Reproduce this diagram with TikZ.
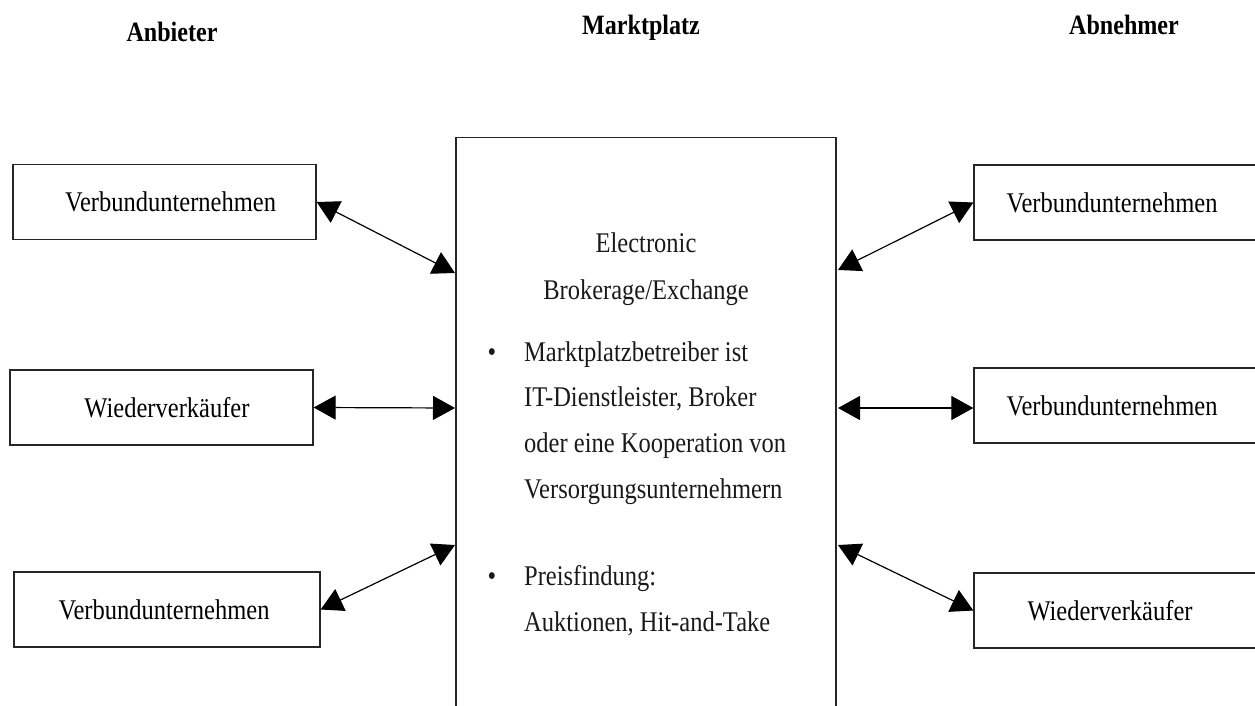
\documentclass[tikz,border=0pt]{standalone}
\usepackage{fontspec}
\setmainfont{Liberation Serif}[FakeStretch=0.86]
\usetikzlibrary{arrows.meta}
\begin{document}
\begin{tikzpicture}[x=1pt,y=-1pt,
  font=\fontsize{28.5}{46}\selectfont,
  sidebox/.style={draw=black!85, line width=1.3pt, minimum height=75pt, inner sep=0pt},
  txt/.style={inner sep=0pt, anchor=base, text=black!90},
  head/.style={inner sep=0pt, anchor=base, font=\fontsize{28}{34}\selectfont\bfseries},
  link/.style={line width=1.2pt, {Triangle[length=22pt,width=24pt]}-{Triangle[length=22pt,width=24pt]}}
]
\useasboundingbox (0,0) rectangle (1255,706);
\clip (0,0) rectangle (1255,706);

% headers
\node[head] (hA) at (172,42) {Anbieter};
\node[head] (hM) at (641,35) {Marktplatz};
\node[head] (hB) at (1124,35) {Abnehmer};

% central box (open at bottom)
\node[draw=black!85, line width=1.3pt, minimum width=380pt, minimum height=700pt, anchor=north, inner sep=0pt] (m) at (646,137) {};

% left boxes
\node[sidebox, minimum width=303pt] (l1) at (164.5,202) {\hspace*{12pt}Verbundunternehmen};
\node[sidebox, minimum width=303pt] (l2) at (161.5,407.5) {\hspace*{11pt}Wiederverkäufer};
\node[sidebox, minimum width=306pt] (l3) at (167,609.5) {\hspace*{-6pt}Verbundunternehmen};

% right boxes (cut off at right edge)
\node[sidebox, minimum width=290pt] (r1) at (1119,202.5) {\hspace*{-14pt}Verbundunternehmen};
\node[sidebox, minimum width=290pt] (r2) at (1119,405.5) {\hspace*{-14pt}Verbundunternehmen};
\node[sidebox, minimum width=290pt] (r3) at (1119,610.5) {\hspace*{-18pt}Wiederverkäufer};

% central texts
\node[txt] (c1) at (646,252) {Electronic};
\node[txt] (c2) at (646,299) {Brokerage/Exchange};
\node[txt] (b1) at (492,361) {•};
\node[txt, anchor=base west] (c3) at (524,361) {Marktplatzbetreiber ist};
\node[txt, anchor=base west] (c4) at (524,406) {IT-Dienstleister, Broker};
\node[txt, anchor=base west] (c5) at (524,452) {oder eine Kooperation von};
\node[txt, anchor=base west] (c6) at (524,498) {Versorgungsunternehmern};
\node[txt] (b2) at (492,585) {•};
\node[txt, anchor=base west] (c7) at (524,585) {Preisfindung:};
\node[txt, anchor=base west] (c8) at (524,631) {Auktionen, Hit-and-Take};

% attachment points on the central box
\coordinate (mw1) at (455,273);
\coordinate (mw2) at (455,408);
\coordinate (mw3) at (455,545);
\coordinate (me1) at (838,270);
\coordinate (me2) at (838,408);
\coordinate (me3) at (838,545);

% connectors
\draw[link] (l1.east) -- (mw1);
\draw[link] (l2.east) -- (mw2);
\draw[link] (l3.east) -- (mw3);
\draw[link] (me1) -- (r1.west);
\draw[link] (me2) -- (r2.west |- mw2);
\draw[link] (me3) -- (r3.west);
\end{tikzpicture}
\end{document}
